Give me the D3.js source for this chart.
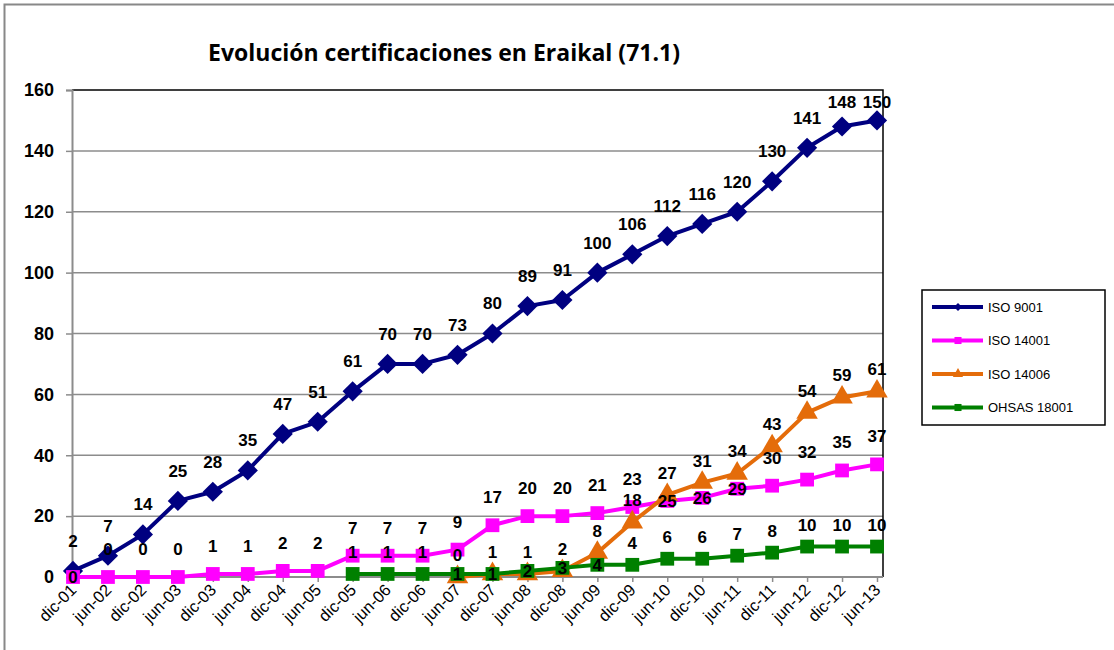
<!DOCTYPE html>
<html>
<head>
<meta charset="utf-8">
<script src="https://d3js.org/d3.v7.min.js"></script>
<style>
  body { margin: 0; background: #fff; }
  svg { display: block; font-family: Arial, "Liberation Sans", sans-serif; }
</style>
</head>
<body>
<svg id="chart" width="1114" height="650"></svg>
<script>
// categories (x axis)
var periods = ["dic-01","jun-02","dic-02","jun-03","dic-03","jun-04","dic-04","jun-05","dic-05","jun-06",
  "dic-06","jun-07","dic-07","jun-08","dic-08","jun-09","dic-09","jun-10","dic-10","jun-11",
  "dic-11","jun-12","dic-12","jun-13"];

// series values (null = no data)
var iso9001 = [2,7,14,25,28,35,47,51,61,70,70,73,80,89,91,100,106,112,116,120,130,141,148,150];
var iso14001 = [0,0,0,0,1,1,2,2,7,7,7,9,17,20,20,21,23,25,26,29,30,32,35,37];
var iso14006 = [null,null,null,null,null,null,null,null,null,null,null,0,1,1,2,8,18,27,31,34,43,54,59,61];
var ohsas = [null,null,null,null,null,null,null,null,1,1,1,1,1,2,3,4,4,6,6,7,8,10,10,10];

var yTicks = [0,20,40,60,80,100,120,140,160];

var series = [
  {name: "ISO 9001", values: iso9001, color: "#000080", marker: "diamond", dy: -30},
  {name: "ISO 14001", values: iso14001, color: "#ff00ff", marker: "square", dy: -28},
  {name: "ISO 14006", values: iso14006, color: "#e46c0a", marker: "triangle", dy: -22},
  {name: "OHSAS 18001", values: ohsas, color: "#008000", marker: "square", dy: -22}
];

var svg = d3.select("#chart");

// outer chart frame
svg.append("rect")
  .attr("x", 4.5).attr("y", 4.5)
  .attr("width", 1120).attr("height", 660)
  .attr("fill", "none").attr("stroke", "#888").attr("stroke-width", 2);

var plotLeft = 72, plotTop = 90, plotRight = 883, plotBottom = 577;

var x = d3.scalePoint().domain(periods).range([73, 877]);
var y = d3.scaleLinear().domain([0, 160]).range([plotBottom, plotTop]);

// title
svg.append("text")
  .attr("x", 444).attr("y", 61)
  .attr("text-anchor", "middle")
  .style("font-family", "'Open Sans', sans-serif")
  .style("font-weight", "bold")
  .style("font-size", "23px")
  .text("Evolución certificaciones en Eraikal (71.1)");

// gridlines
svg.append("g")
  .selectAll("line")
  .data(yTicks.slice(1, -1))
  .join("line")
  .attr("x1", plotLeft).attr("x2", plotRight)
  .attr("y1", d => y(d)).attr("y2", d => y(d))
  .attr("stroke", "#8c8c8c").attr("stroke-width", 1.5);

// plot frame (top and right black)
svg.append("path")
  .attr("d", "M" + plotLeft + "," + plotTop + "H" + plotRight + "V" + plotBottom)
  .attr("fill", "none").attr("stroke", "#000").attr("stroke-width", 1.5);

// y axis
var yAxis = svg.append("g")
  .attr("transform", "translate(" + plotLeft + ",0)")
  .call(d3.axisLeft(y).tickValues(yTicks).tickSize(6).tickPadding(12));
yAxis.select(".domain").attr("stroke", "#8c8c8c").attr("stroke-width", 2);
yAxis.selectAll(".tick line").attr("stroke", "#8c8c8c").attr("stroke-width", 1.5);
yAxis.selectAll("text")
  .attr("fill", "#000")
  .style("font-family", "Arial, 'Liberation Sans', sans-serif")
  .style("font-size", "18px").style("font-weight", "bold");

// x axis
var xAxis = svg.append("g")
  .attr("transform", "translate(0," + plotBottom + ")")
  .call(d3.axisBottom(x).tickSize(5).tickSizeOuter(0));
xAxis.select(".domain").attr("d", "M" + plotLeft + ",0H" + plotRight).attr("stroke", "#8c8c8c").attr("stroke-width", 2);
xAxis.selectAll(".tick line").attr("stroke", "#8c8c8c").attr("stroke-width", 1.5);
xAxis.selectAll("text")
  .attr("fill", "#000")
  .style("font-family", "Arial, 'Liberation Sans', sans-serif")
  .style("font-size", "16.5px")
  .attr("text-anchor", "end")
  .attr("x", 0).attr("y", 0)
  .attr("dx", "0").attr("dy", "0")
  .attr("transform", "translate(4,14) rotate(-45)");

function markerPath(type) {
  if (type === "diamond") return d3.symbol().type(d3.symbolDiamond2).size(260)();
  if (type === "triangle") return d3.symbol().type(d3.symbolTriangle).size(200)();
  return d3.symbol().type(d3.symbolSquare).size(190)();
}

var line = d3.line()
  .defined(d => d.v != null)
  .x(d => x(d.p))
  .y(d => y(d.v));

series.forEach(function(s) {
  var pts = periods.map((p, i) => ({p: p, v: s.values[i]}));
  var g = svg.append("g");
  g.append("path")
    .datum(pts)
    .attr("fill", "none")
    .attr("stroke", s.color)
    .attr("stroke-width", 4)
    .attr("stroke-linejoin", "round")
    .attr("d", line);
  g.selectAll(".mk")
    .data(pts.filter(d => d.v != null))
    .join("path")
    .attr("class", "mk")
    .attr("transform", d => "translate(" + x(d.p) + "," + y(d.v) + ")")
    .attr("d", markerPath(s.marker))
    .attr("fill", s.color);
});

// data labels: try above the point, fall back to on the point, then below
var placed = [];
var labelOrder = [series[0], series[2], series[3], series[1]];
labelOrder.forEach(function(s) {
  var pts = periods.map((p, i) => ({p: p, v: s.values[i]})).filter(d => d.v != null);
  pts.forEach(function(d) {
    var cx = x(d.p), py = y(d.v);
    var w = String(d.v).length * 9.5, h = 15;
    var tries = [Math.max(py + s.dy, plotTop + 12), py, py + 20];
    var cy = tries[0];
    for (var k = 0; k < tries.length; k++) {
      var ty = tries[k];
      var hit = placed.some(b => Math.abs(b.x - cx) < (b.w + w) / 2 && Math.abs(b.y - ty) < h);
      if (!hit) { cy = ty; break; }
    }
    placed.push({x: cx, y: cy, w: w, v: d.v});
  });
});
svg.append("g")
  .selectAll("text")
  .data(placed)
  .join("text")
  .attr("x", d => d.x)
  .attr("y", d => d.y)
  .attr("dy", "0.35em")
  .attr("text-anchor", "middle")
  .style("font-size", "17px")
  .style("font-weight", "bold")
  .attr("fill", "#000")
  .text(d => d.v);

// legend
var legend = svg.append("g").attr("transform", "translate(922,290)");
legend.append("rect")
  .attr("width", 183).attr("height", 135)
  .attr("fill", "#fff").attr("stroke", "#000").attr("stroke-width", 1.5);
var li = legend.selectAll(".li")
  .data(series)
  .join("g")
  .attr("class", "li")
  .attr("transform", (d, i) => "translate(0," + (17 + i * 33.5) + ")");
li.append("line")
  .attr("x1", 10).attr("x2", 61)
  .attr("stroke", d => d.color).attr("stroke-width", 4);
li.append("path")
  .attr("transform", "translate(36,0)")
  .attr("d", d => d.marker === "diamond" ? d3.symbol().type(d3.symbolDiamond2).size(40)()
    : d.marker === "triangle" ? d3.symbol().type(d3.symbolTriangle).size(45)()
    : d3.symbol().type(d3.symbolSquare).size(50)())
  .attr("fill", d => d.color);
li.append("text")
  .attr("x", 66).attr("dy", "0.35em")
  .style("font-size", "13px")
  .text(d => d.name);
</script>
</body>
</html>
